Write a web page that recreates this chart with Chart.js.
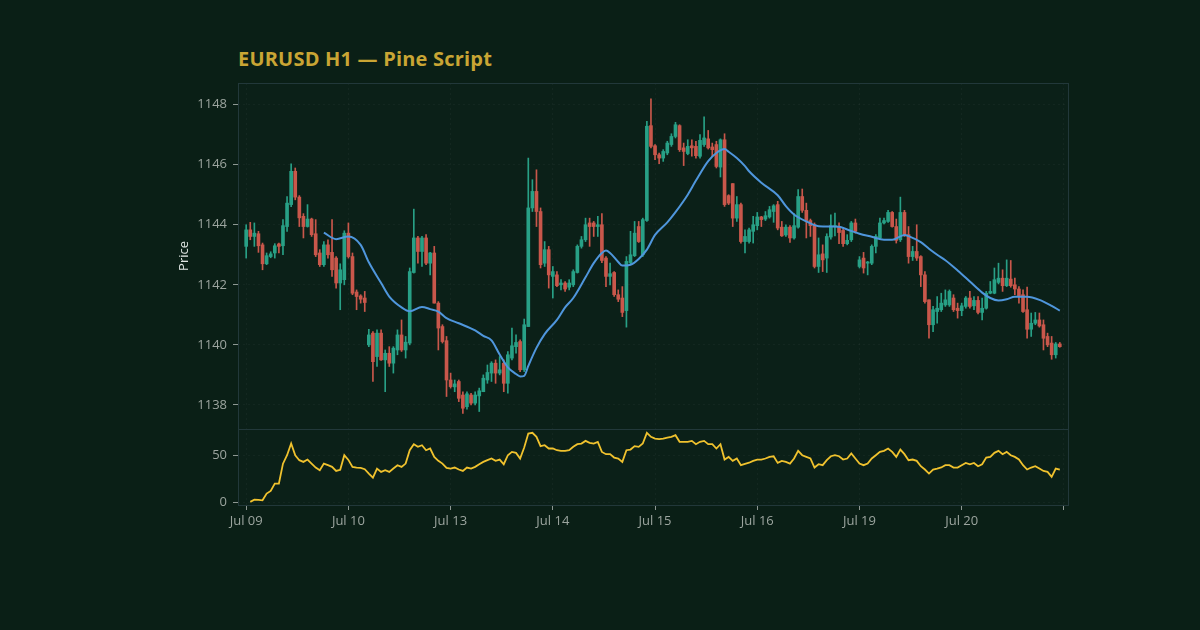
<!DOCTYPE html>
<html lang="en">
<head>
<meta charset="UTF-8">
<title>EURUSD H1 — Pine Script</title>
<script src="https://cdn.jsdelivr.net/npm/chart.js"></script>
<style>
    body {
        margin: 0;
        background: #0a1f16;
        font-family: "Open Sans", sans-serif;
    }
    #wrap {
        position: relative;
        width: 1200px;
        height: 630px;
    }
    h1 {
        position: absolute;
        left: 238px;
        top: 46px;
        margin: 0;
        font-size: 20px;
        line-height: 26px;
        font-weight: 700;
        color: #c9a534;
        letter-spacing: 0.2px;
    }
    canvas {
        position: absolute;
        left: 0;
        top: 0;
    }
</style>
</head>
<body>
<div id="wrap">
    <h1>EURUSD H1 — Pine Script</h1>
    <canvas id="chartCanvas" width="1200" height="630"></canvas>
</div>
<script>
// hourly candles, index 0..199
const opens = [
    1143.28, 1143.83, 1143.61, 1143.70, 1143.33, 1142.70, 1142.94, 1143.06, 1143.36, 1143.30,
    1143.94, 1144.67, 1145.78, 1144.92, 1144.28, 1143.94, 1144.19, 1143.70, 1143.06, 1142.67,
    1143.33, 1143.08, 1142.89, 1142.06, 1142.17, 1143.72, 1142.94, 1141.76, 1141.63, 1141.56,
    1140.00, 1140.39, 1139.61, 1140.39, 1139.50, 1139.72, 1139.39, 1139.83, 1140.33, 1139.83,
    1140.06, 1142.41, 1143.56, 1143.11, 1143.56, 1142.72, 1143.06, 1141.39, 1140.61, 1140.14,
    1138.83, 1138.60, 1138.78, 1138.33, 1137.94, 1138.33, 1138.06, 1138.30, 1138.44, 1138.83,
    1139.06, 1139.39, 1139.06, 1139.39, 1138.72, 1139.56, 1139.94, 1140.11, 1139.17, 1140.61,
    1144.56, 1145.11, 1144.44, 1142.72, 1143.17, 1142.28, 1142.33, 1142.00, 1142.06, 1141.92,
    1142.00, 1142.41, 1143.28, 1143.50, 1144.06, 1144.06, 1143.94, 1144.00, 1142.89, 1142.28,
    1142.41, 1141.67, 1141.56, 1141.14, 1142.74, 1142.97, 1143.94, 1143.00, 1144.14, 1147.30,
    1146.63, 1146.33, 1146.22, 1146.39, 1146.67, 1146.94, 1147.30, 1146.56, 1146.37, 1146.63,
    1146.61, 1146.28, 1146.67, 1146.86, 1146.59, 1146.67, 1145.92, 1146.83, 1144.97, 1145.37,
    1144.22, 1144.67, 1143.44, 1143.44, 1143.78, 1143.97, 1144.26, 1144.19, 1144.26, 1144.44,
    1144.67, 1143.92, 1143.66, 1143.92, 1143.56, 1143.92, 1144.94, 1144.48, 1144.14, 1144.00,
    1142.61, 1143.03, 1142.89, 1143.59, 1143.94, 1143.94, 1143.81, 1143.37, 1143.50, 1144.06,
    1142.61, 1142.89, 1142.72, 1142.72, 1143.28, 1143.56, 1144.06, 1144.11, 1144.41, 1143.94,
    1143.50, 1144.41, 1143.67, 1142.94, 1143.11, 1142.94, 1142.33, 1141.50, 1140.67, 1141.11,
    1141.17, 1141.33, 1141.33, 1141.56, 1141.22, 1141.14, 1141.28, 1141.56, 1141.30, 1141.48,
    1141.08, 1141.22, 1141.72, 1141.72, 1142.08, 1142.22, 1141.97, 1142.19, 1142.00, 1141.86,
    1141.67, 1141.17, 1140.52, 1140.72, 1140.83, 1140.67, 1140.28, 1140.06, 1139.67, 1140.03
];
const highs = [
    1144.00, 1144.08, 1144.06, 1143.78, 1143.39, 1143.06, 1143.10, 1143.37, 1143.39, 1144.17,
    1144.94, 1146.03, 1145.89, 1144.97, 1144.37, 1144.67, 1144.22, 1144.17, 1143.17, 1143.44,
    1143.50, 1144.17, 1142.94, 1142.70, 1143.80, 1144.06, 1143.06, 1141.83, 1141.67, 1141.78,
    1140.52, 1140.44, 1140.50, 1140.50, 1139.83, 1139.94, 1139.94, 1140.50, 1140.83, 1140.28,
    1142.56, 1144.52, 1143.61, 1143.61, 1143.67, 1143.08, 1143.28, 1141.44, 1140.67, 1140.28,
    1139.06, 1138.83, 1138.83, 1138.44, 1138.44, 1138.39, 1138.44, 1138.56, 1139.00, 1139.33,
    1139.44, 1139.50, 1139.61, 1139.50, 1139.78, 1140.56, 1140.33, 1140.17, 1140.86, 1146.22,
    1145.50, 1145.83, 1144.56, 1143.44, 1143.28, 1142.61, 1142.44, 1142.17, 1142.11, 1142.17,
    1142.50, 1143.33, 1143.61, 1144.22, 1144.22, 1144.11, 1144.28, 1144.37, 1142.94, 1142.72,
    1142.44, 1141.83, 1141.94, 1142.94, 1143.78, 1144.11, 1144.11, 1144.22, 1147.44, 1148.19,
    1146.67, 1146.39, 1146.50, 1146.78, 1147.03, 1147.41, 1147.33, 1146.72, 1146.83, 1146.83,
    1146.78, 1147.00, 1147.59, 1147.14, 1146.72, 1146.78, 1146.86, 1147.03, 1145.00, 1145.37,
    1144.94, 1144.72, 1143.83, 1143.89, 1144.28, 1144.41, 1144.28, 1144.44, 1144.61, 1144.67,
    1144.78, 1144.11, 1144.00, 1143.97, 1144.37, 1145.17, 1145.19, 1144.72, 1144.19, 1144.06,
    1143.56, 1143.33, 1143.70, 1144.33, 1144.39, 1144.06, 1143.86, 1143.67, 1144.11, 1144.19,
    1142.94, 1143.08, 1142.78, 1143.33, 1143.67, 1144.22, 1144.22, 1144.48, 1144.44, 1144.19,
    1144.92, 1144.48, 1143.94, 1143.28, 1144.00, 1142.97, 1142.44, 1141.50, 1141.28, 1141.61,
    1141.72, 1141.83, 1141.83, 1141.67, 1141.39, 1141.39, 1141.61, 1141.78, 1141.61, 1141.61,
    1141.56, 1141.78, 1142.11, 1142.56, 1142.72, 1142.50, 1142.83, 1142.81, 1142.22, 1141.94,
    1141.83, 1141.92, 1141.06, 1141.08, 1141.06, 1140.83, 1140.39, 1140.28, 1140.08, 1140.08
];
const lows = [
    1142.89, 1143.50, 1143.28, 1143.08, 1142.50, 1142.67, 1142.90, 1142.89, 1143.06, 1143.00,
    1143.78, 1144.60, 1144.83, 1143.94, 1143.56, 1143.92, 1143.61, 1142.94, 1142.61, 1142.61,
    1142.89, 1142.28, 1141.89, 1141.17, 1142.00, 1142.89, 1141.67, 1141.17, 1141.39, 1141.11,
    1139.94, 1138.78, 1139.28, 1139.48, 1138.44, 1139.28, 1139.06, 1139.67, 1139.78, 1139.56,
    1140.00, 1142.39, 1142.72, 1142.61, 1142.67, 1142.33, 1141.39, 1139.83, 1140.06, 1138.28,
    1138.56, 1138.44, 1138.11, 1137.72, 1137.86, 1138.00, 1138.00, 1137.78, 1138.44, 1138.72,
    1138.78, 1138.72, 1139.00, 1138.44, 1138.39, 1139.50, 1139.72, 1139.11, 1139.11, 1140.61,
    1144.44, 1143.94, 1142.56, 1142.61, 1141.89, 1141.56, 1141.94, 1141.83, 1141.78, 1141.83,
    1141.94, 1142.39, 1143.22, 1143.44, 1143.28, 1143.61, 1143.61, 1142.74, 1141.94, 1142.00,
    1141.61, 1141.44, 1140.94, 1140.59, 1142.67, 1142.94, 1143.41, 1142.94, 1144.11, 1146.56,
    1146.17, 1146.03, 1146.11, 1146.33, 1146.61, 1146.89, 1146.44, 1145.97, 1146.33, 1146.28,
    1146.22, 1146.22, 1146.61, 1146.52, 1146.28, 1145.89, 1145.59, 1144.61, 1144.67, 1143.94,
    1144.11, 1143.39, 1143.06, 1143.39, 1143.39, 1143.83, 1143.94, 1144.14, 1144.22, 1144.08,
    1143.83, 1143.61, 1143.61, 1143.41, 1143.52, 1143.89, 1144.41, 1143.56, 1143.61, 1142.56,
    1142.41, 1142.44, 1142.41, 1143.52, 1143.63, 1143.37, 1143.28, 1143.33, 1143.44, 1143.72,
    1142.56, 1142.39, 1142.33, 1142.67, 1143.06, 1143.50, 1144.03, 1144.08, 1143.92, 1143.39,
    1143.44, 1143.61, 1142.72, 1142.81, 1142.81, 1141.94, 1141.39, 1140.22, 1140.44, 1140.72,
    1141.11, 1141.28, 1141.28, 1141.11, 1140.89, 1140.97, 1141.22, 1141.22, 1141.17, 1141.03,
    1140.83, 1141.19, 1141.70, 1141.70, 1142.03, 1141.78, 1141.94, 1141.92, 1141.67, 1141.39,
    1141.08, 1140.22, 1140.28, 1140.67, 1140.59, 1139.83, 1139.94, 1139.52, 1139.56, 1139.92
];
const closes = [
    1143.83, 1143.61, 1143.72, 1143.30, 1142.70, 1142.97, 1143.03, 1143.30, 1143.28, 1143.97,
    1144.72, 1145.78, 1144.92, 1144.23, 1143.94, 1144.19, 1143.67, 1143.00, 1142.67, 1143.33,
    1143.00, 1142.50, 1142.06, 1142.50, 1143.72, 1142.94, 1141.72, 1141.61, 1141.52, 1141.41,
    1140.33, 1139.44, 1140.39, 1139.50, 1139.72, 1139.39, 1139.89, 1140.33, 1139.83, 1140.09,
    1142.44, 1143.56, 1143.11, 1143.56, 1142.72, 1143.06, 1141.39, 1140.56, 1140.11, 1138.83,
    1138.61, 1138.70, 1138.22, 1137.89, 1138.37, 1138.06, 1138.33, 1138.47, 1138.89, 1139.08,
    1139.39, 1139.06, 1139.17, 1138.72, 1139.67, 1139.97, 1140.08, 1139.17, 1140.67, 1144.56,
    1145.11, 1144.44, 1142.67, 1143.17, 1142.33, 1142.44, 1141.97, 1142.06, 1141.86, 1142.06,
    1142.44, 1143.28, 1143.50, 1144.00, 1143.94, 1143.94, 1144.00, 1142.81, 1142.28, 1142.37,
    1141.67, 1141.52, 1141.08, 1142.78, 1143.00, 1143.72, 1143.44, 1144.17, 1147.28, 1146.61,
    1146.33, 1146.22, 1146.44, 1146.72, 1146.94, 1147.33, 1146.50, 1146.44, 1146.61, 1146.56,
    1146.30, 1146.81, 1146.89, 1146.56, 1146.50, 1145.94, 1146.83, 1144.67, 1144.72, 1144.22,
    1144.67, 1143.44, 1143.61, 1143.83, 1144.00, 1144.26, 1144.17, 1144.30, 1144.50, 1144.63,
    1143.89, 1143.63, 1143.92, 1143.56, 1143.97, 1144.94, 1144.48, 1144.14, 1143.97, 1142.61,
    1143.00, 1142.83, 1143.61, 1143.97, 1143.97, 1143.74, 1143.37, 1143.48, 1144.06, 1143.78,
    1142.83, 1142.56, 1142.76, 1143.28, 1143.61, 1144.06, 1144.14, 1144.41, 1143.94, 1143.48,
    1144.41, 1143.67, 1142.94, 1143.11, 1142.89, 1142.33, 1141.44, 1140.67, 1141.17, 1141.22,
    1141.39, 1141.50, 1141.78, 1141.17, 1141.14, 1141.30, 1141.56, 1141.28, 1141.48, 1141.08,
    1141.22, 1141.72, 1141.78, 1142.17, 1142.22, 1141.97, 1142.22, 1141.97, 1141.86, 1141.61,
    1141.11, 1140.52, 1140.72, 1140.83, 1140.63, 1140.22, 1140.00, 1139.67, 1140.03, 1139.94
];

// moving average, read at these bar indices
const maIdx = [
    19, 22, 25, 28, 30, 33, 35, 38, 40, 43, 45, 47, 49, 52, 56, 58, 60, 62, 64, 66,
    67, 68, 69, 71, 73, 76, 78, 80, 83, 85, 87, 88, 89, 91, 92, 94, 96, 98, 100, 103,
    105, 108, 110, 113, 115, 117, 118, 120, 122, 123, 126, 130, 132, 134, 137, 140, 143, 145, 147, 150,
    153, 156, 158, 161, 162, 165, 167, 169, 171, 174, 177, 180, 182, 184, 186, 188, 191, 194, 197, 199
];
const maVals = [
    1143.74, 1143.52, 1143.61, 1143.33, 1142.75, 1142.06, 1141.61, 1141.25, 1141.12, 1141.26,
    1141.19, 1141.11, 1140.89, 1140.72, 1140.48, 1140.30, 1140.15, 1139.68, 1139.25, 1139.03,
    1138.95, 1138.97, 1139.30, 1139.90, 1140.36, 1140.83, 1141.25, 1141.56, 1142.25, 1142.72,
    1143.06, 1143.14, 1143.06, 1142.76, 1142.64, 1142.67, 1142.86, 1143.17, 1143.66, 1144.08,
    1144.42, 1145.00, 1145.47, 1146.12, 1146.39, 1146.52, 1146.43, 1146.22, 1145.95, 1145.78,
    1145.40, 1144.98, 1144.62, 1144.34, 1144.11, 1143.95, 1143.94, 1143.93, 1143.84, 1143.70,
    1143.60, 1143.50, 1143.50, 1143.66, 1143.62, 1143.42, 1143.20, 1143.00, 1142.82, 1142.48,
    1142.11, 1141.74, 1141.56, 1141.48, 1141.52, 1141.60, 1141.60, 1141.50, 1141.30, 1141.14
];

// lower pane oscillator, one value per bar
const oscVals = [
    null, 0.4, 2.8, 2.5, 2.1, 9.2, 12.0, 19.9, 19.9, 41.0,
    50.0, 62.4, 50.0, 44.7, 42.9, 45.4, 41.1, 36.9, 34.0, 41.1,
    39.4, 37.6, 33.3, 34.5, 50.0, 45.0, 37.6, 36.9, 36.5, 35.1,
    30.5, 26.2, 35.8, 32.3, 34.0, 32.3, 35.8, 39.4, 37.6, 41.1,
    55.3, 61.7, 58.9, 60.6, 55.3, 57.1, 48.2, 44.0, 41.1, 36.5,
    35.8, 36.9, 34.8, 33.3, 36.9, 35.8, 37.6, 40.4, 42.9, 44.7,
    46.5, 44.0, 45.4, 40.4, 50.0, 53.5, 52.5, 46.5, 58.2, 73.0,
    73.8, 69.5, 59.6, 60.6, 57.1, 57.1, 55.3, 54.6, 54.6, 55.3,
    58.9, 61.7, 62.4, 65.2, 63.1, 62.4, 64.2, 53.5, 51.1, 51.1,
    47.5, 46.5, 42.9, 55.3, 56.0, 59.6, 58.9, 62.4, 73.8, 69.5,
    67.7, 67.0, 67.7, 68.8, 69.5, 71.3, 64.2, 64.2, 64.2, 65.2,
    61.7, 64.2, 65.2, 61.7, 61.7, 57.1, 61.7, 45.4, 48.2, 44.0,
    46.5, 39.4, 40.8, 42.0, 44.0, 45.4, 45.4, 46.5, 48.2, 48.9,
    41.8, 44.0, 42.9, 41.1, 46.5, 54.6, 50.0, 48.2, 46.5, 36.9,
    40.4, 39.4, 44.7, 48.9, 50.0, 48.9, 45.4, 46.5, 51.8, 46.5,
    41.1, 39.4, 41.1, 46.5, 50.0, 53.5, 54.6, 57.1, 53.5, 48.2,
    56.0, 51.1, 44.7, 45.4, 44.0, 38.3, 34.8, 30.5, 34.8, 35.8,
    37.0, 39.4, 39.4, 36.9, 36.9, 39.4, 41.8, 40.4, 41.8, 38.3,
    40.4, 47.5, 48.2, 52.5, 54.6, 51.1, 53.5, 50.0, 48.2, 45.4,
    39.4, 34.8, 36.9, 38.3, 35.8, 33.3, 32.3, 27.0, 35.8, 34.8
];

const dayTicks = [0, 25, 50, 75, 100, 125, 150, 175, 200];
const dayLabels = ['Jul 09', 'Jul 10', 'Jul 13', 'Jul 14', 'Jul 15', 'Jul 16', 'Jul 19', 'Jul 20', ''];
const priceTicks = [1138, 1140, 1142, 1144, 1146, 1148];
const oscTicks = [0, 50];

const UP = '#28a086';
const DOWN = '#c9574b';
const TEXT = '#9ca59f';
const GRID = 'rgba(255, 255, 255, 0.035)';
const FRAME = '#22383a';

const candleColor = ctx => closes[ctx.dataIndex] >= opens[ctx.dataIndex] ? UP : DOWN;

const wickData = opens.map((o, i) => ({ x: i, y: [lows[i], highs[i]] }));
const bodyData = opens.map((o, i) => ({ x: i, y: [o, closes[i]] }));
const maData = maIdx.map((x, k) => ({ x: x, y: maVals[k] }));
const oscData = oscVals.map((v, i) => ({ x: i, y: v }));

const framePlugin = {
    id: 'frame',
    beforeDraw(chart) {
        const a = chart.chartArea;
        const ctx = chart.ctx;
        ctx.save();
        ctx.fillStyle = '#0b2018';
        ctx.fillRect(a.left, a.top, a.right - a.left, a.bottom - a.top);
        ctx.restore();
    },
    afterDraw(chart) {
        const a = chart.chartArea;
        const ctx = chart.ctx;
        const sep = Math.round(chart.scales.osc.top) + 0.5;
        ctx.save();
        ctx.strokeStyle = FRAME;
        ctx.lineWidth = 1;
        ctx.strokeRect(Math.round(a.left) + 0.5, Math.round(a.top) + 0.5,
            Math.round(a.right - a.left), Math.round(a.bottom - a.top));
        ctx.beginPath();
        ctx.moveTo(a.left, sep);
        ctx.lineTo(a.right, sep);
        ctx.stroke();
        ctx.restore();
    }
};

const gridOpts = {
    color: GRID,
    lineWidth: 1,
    offset: false,
    drawTicks: true,
    tickLength: 5,
    tickColor: '#8e9893',
    tickWidth: 1
};

new Chart(document.getElementById('chartCanvas').getContext('2d'), {
    type: 'bar',
    data: {
        datasets: [
            {
                label: 'Wicks',
                data: wickData,
                backgroundColor: candleColor,
                barThickness: 1,
                grouped: false,
                yAxisID: 'price',
                order: 3
            },
            {
                label: 'Bodies',
                data: bodyData,
                backgroundColor: candleColor,
                barThickness: 3,
                minBarLength: 1,
                grouped: false,
                yAxisID: 'price',
                order: 2
            },
            {
                type: 'line',
                label: 'MA',
                data: maData,
                borderColor: '#4f96dc',
                borderWidth: 2,
                pointRadius: 0,
                cubicInterpolationMode: 'monotone',
                yAxisID: 'price',
                order: 1
            },
            {
                type: 'line',
                label: 'Osc',
                data: oscData,
                borderColor: '#f0c22e',
                borderWidth: 1.8,
                pointRadius: 0,
                tension: 0,
                yAxisID: 'osc',
                order: 0
            }
        ]
    },
    options: {
        responsive: false,
        animation: false,
        events: [],
        layout: {
            padding: { left: 172, right: 132, top: 83, bottom: 95 }
        },
        plugins: {
            legend: { display: false },
            tooltip: { enabled: false }
        },
        scales: {
            x: {
                type: 'linear',
                min: -2,
                max: 201,
                offset: false,
                grid: gridOpts,
                border: { display: false, dash: [2, 3] },
                afterBuildTicks: s => { s.ticks = dayTicks.map(v => ({ value: v })); },
                afterFit: s => { s.height = 30; },
                ticks: {
                    autoSkip: false,
                    maxRotation: 0,
                    padding: 3,
                    color: TEXT,
                    font: { family: 'Open Sans', size: 13 },
                    callback: v => dayLabels[dayTicks.indexOf(v)] ?? ''
                }
            },
            // the stack is laid out bottom-up, so the lower pane is declared first
            osc: {
                type: 'linear',
                position: 'left',
                stack: 'panes',
                stackWeight: 76,
                min: -2.9,
                max: 77.9,
                grid: gridOpts,
                border: { display: false, dash: [2, 3] },
                afterBuildTicks: s => { s.ticks = oscTicks.map(v => ({ value: v })); },
                afterFit: s => { s.width = 66; },
                ticks: {
                    padding: 6,
                    color: TEXT,
                    font: { family: 'Open Sans', size: 13 },
                    callback: v => String(v)
                }
            },
            price: {
                type: 'linear',
                position: 'left',
                stack: 'panes',
                stackWeight: 345.7,
                min: 1137.2,
                max: 1148.72,
                grid: gridOpts,
                border: { display: false, dash: [2, 3] },
                afterBuildTicks: s => { s.ticks = priceTicks.map(v => ({ value: v })); },
                afterFit: s => { s.width = 66; },
                ticks: {
                    padding: 6,
                    color: TEXT,
                    font: { family: 'Open Sans', size: 13 },
                    callback: v => String(v)
                },
                title: {
                    display: true,
                    text: 'Price',
                    color: '#dfe5e2',
                    font: { family: 'Open Sans', size: 13 },
                    padding: { top: 4, bottom: 0 }
                }
            }
        }
    },
    plugins: [framePlugin]
});
</script>
</body>
</html>
